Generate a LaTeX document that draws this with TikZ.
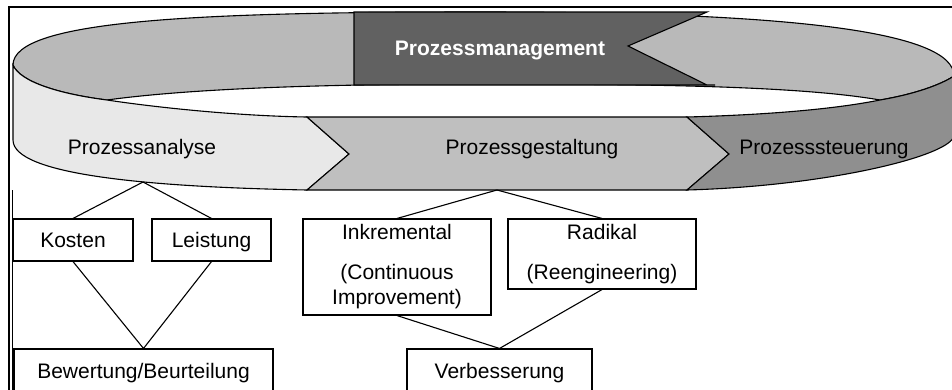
\documentclass[tikz,border=0pt]{standalone}
\usepackage{fontspec}
\setmainfont{Liberation Sans}
\definecolor{backgray}{HTML}{B9B9B9}
\definecolor{headgray}{HTML}{616161}
\definecolor{analysegray}{HTML}{E8E8E8}
\definecolor{gestaltgray}{HTML}{BFBFBF}
\definecolor{steuergray}{HTML}{8F8F8F}
\begin{document}
\begin{tikzpicture}[x=1pt, y=-1pt,
  outline/.style={draw=black, line width=1.1pt, line join=miter},
  lbl/.style={font=\fontsize{21}{25}\selectfont, inner sep=0pt, anchor=base},
  box/.style={draw=black, line width=1.1pt, fill=white, inner sep=0pt,
    font=\fontsize{21}{25}\selectfont, align=center},
  onebox/.style={box, text height=16pt, text depth=2pt},
  conn/.style={draw=black, line width=1.1pt}]
\useasboundingbox (0,0) rectangle (952,389);

% outer frame
\draw[line width=1.5pt] (9,400) -- (9,7) -- (970,7);
\draw[line width=1pt] (12,190) -- (12,400);

% back half of the ring
\path[outline, fill=backgray]
  (13,65) .. controls (13,20) and (200,12) .. (480,12)
  .. controls (780,12) and (954,30) .. (954,76)
  .. controls (940,85) and (915,94) .. (880,100)
  .. controls (800,86) and (650,84) .. (480,84)
  .. controls (300,84) and (180,90) .. (107,100)
  .. controls (60,94) and (20,82) .. (13,65) -- cycle;

% title panel with the notch of the returning arrow
\path[outline, fill=headgray]
  (354,12) -- (707,12) -- (628,46) -- (707,85) -- (715,85) -- (354,85) -- cycle;
\node[lbl, text=white, font=\fontsize{21}{25}\selectfont\bfseries] (pm) at (500,55) {Prozessmanagement};

% front half of the ring: three phases
\path[outline, fill=analysegray]
  (13,65) .. controls (20,82) and (60,94) .. (107,100)
  .. controls (160,108) and (240,116) .. (307,117)
  -- (349,154) -- (307,190)
  .. controls (150,187) and (13,175) .. (13,140) -- cycle;
\path[outline, fill=gestaltgray]
  (307,117) -- (687,117) -- (729,154) -- (687,190) -- (307,190) -- (349,154) -- cycle;
\path[outline, fill=steuergray]
  (687,117) .. controls (760,115) and (830,110) .. (880,100)
  .. controls (915,94) and (940,85) .. (954,76)
  -- (954,135) .. controls (954,155) and (830,186) .. (687,190)
  -- (729,154) -- cycle;

\node[lbl] (pa) at (142,154) {Prozessanalyse};
\node[lbl] (pg) at (532,154) {Prozessgestaltung};
\node[lbl] (ps) at (824,154) {Prozesssteuerung};

\coordinate (paBot) at (143,182);
\coordinate (pgBot) at (497,190);

% analysis branch
\node[onebox, minimum width=120pt, minimum height=42pt] (kosten) at (73,240) {Kosten};
\node[onebox, minimum width=119pt, minimum height=42pt] (leistung) at (211.5,240) {Leistung};
\node[onebox, minimum width=259pt, minimum height=44pt] (bewertung) at (143.5,371) {Bewertung/Beurteilung};

% design branch
\node[box, minimum width=188pt, minimum height=96pt] (inkr) at (397,267)
  {Inkremental\\[15pt](Continuous\\Improvement)};
\node[box, minimum width=188pt, minimum height=70pt] (radikal) at (602,254)
  {Radikal\\[15pt](Reengineering)};
\node[onebox, minimum width=185pt, minimum height=44pt] (verb) at (499.5,371) {Verbesserung};

\draw[conn] (kosten.north) -- (paBot) -- (leistung.north);
\draw[conn] (kosten.south) -- (bewertung.north) -- (leistung.south);
\draw[conn] (inkr.north) -- (pgBot) -- (radikal.north);
\draw[conn] (inkr.south) -- (verb.north) -- (radikal.south);
\end{tikzpicture}
\end{document}
